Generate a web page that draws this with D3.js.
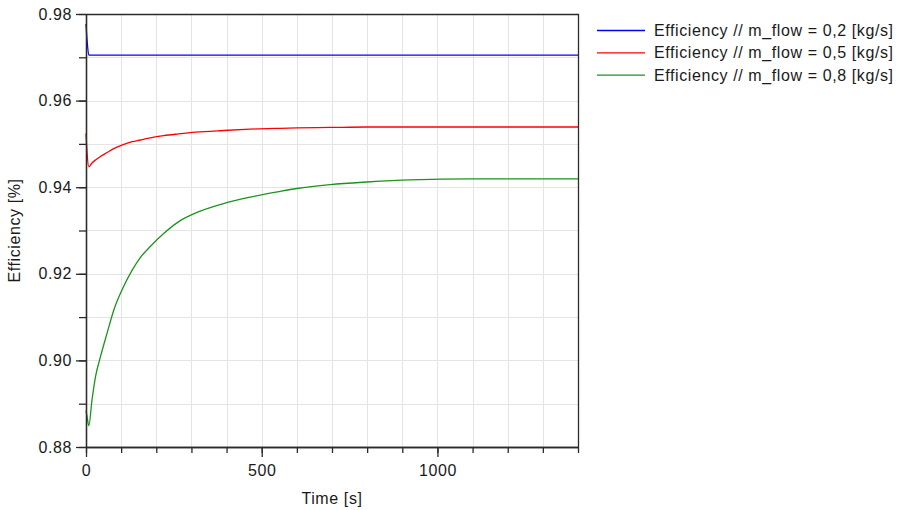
<!DOCTYPE html>
<html>
<head>
<meta charset="utf-8">
<script src="https://cdn.jsdelivr.net/npm/d3@7/dist/d3.min.js"></script>
<style>
  html, body { margin: 0; padding: 0; background: #fff; }
  svg { display: block; }
  text { font-family: "Liberation Sans", Arial, sans-serif; font-size: 16px; letter-spacing: 0.6px; fill: #1a1a1a; }
</style>
</head>
<body>
<svg id="chart" width="901" height="510"></svg>
<script>
// Simulation output: time [s] and efficiency per mass flow rate
const timeS = [0, 3, 8, 17, 27, 41, 60, 79, 102, 131, 154, 183, 221, 263, 311, 391, 467, 550, 600, 695, 799, 922, 1100, 1400];
const effFlow02 = [0.9777, 0.9740, 0.9705, 0.9705, 0.9705, 0.9705, 0.9705, 0.9705, 0.9705, 0.9705, 0.9705, 0.9705,
                   0.9705, 0.9705, 0.9705, 0.9705, 0.9705, 0.9705, 0.9705, 0.9705, 0.9705, 0.9705, 0.9705, 0.9705];
const effFlow05 = [0.9524, 0.9480, 0.9447, 0.9456, 0.9463, 0.9471, 0.9480, 0.9489, 0.9497, 0.9505, 0.9509, 0.9514,
                   0.9519, 0.9523, 0.9527, 0.9531, 0.9534, 0.9536, 0.9537, 0.9538, 0.9539, 0.9539, 0.9539, 0.9539];
const effFlow08 = [0.8884, 0.8870, 0.8849, 0.8908, 0.8962, 0.9008, 0.9063, 0.9116, 0.9162, 0.9208, 0.9237, 0.9263,
                   0.9293, 0.9320, 0.9340, 0.9362, 0.9377, 0.9390, 0.9397, 0.9406, 0.9412, 0.9417, 0.9419, 0.9419];
const seriesNames = ["Efficiency // m_flow = 0,2 [kg/s]", "Efficiency // m_flow = 0,5 [kg/s]", "Efficiency // m_flow = 0,8 [kg/s]"];
const seriesColors = ["#0000ff", "#ff0000", "#1a941a"];
const xMajorTicks = [0, 500, 1000];
const xMinorTicks = d3.range(0, 1401, 100);
const yMajorTicks = [0.88, 0.90, 0.92, 0.94, 0.96, 0.98];
const yMinorTicks = d3.range(0.88, 0.9801, 0.01).map(v => +v.toFixed(2));

const svg = d3.select("#chart");
const plot = { left: 86, right: 578, top: 14, bottom: 447 };

const x = d3.scaleLinear().domain([0, 1400]).range([plot.left, plot.right]);
const y = d3.scaleLinear().domain([0.88, 0.98]).range([plot.bottom, plot.top]);

// grid
const grid = svg.append("g").attr("stroke", "#e4e4e4").attr("stroke-width", 1);
grid.selectAll("line.v").data(xMinorTicks.filter(t => t > 0 && t < 1400)).join("line")
  .attr("x1", d => Math.round(x(d)) + 0.5).attr("x2", d => Math.round(x(d)) + 0.5)
  .attr("y1", plot.top).attr("y2", plot.bottom);
grid.selectAll("line.h").data(yMinorTicks.filter(v => v > 0.88 && v < 0.98)).join("line")
  .attr("y1", d => Math.round(y(d)) + 0.5).attr("y2", d => Math.round(y(d)) + 0.5)
  .attr("x1", plot.left).attr("x2", plot.right);

// series lines
const seriesData = [effFlow02, effFlow05, effFlow08];
const line = d3.line().x((d, i) => x(timeS[i])).y(d => y(d)).curve(d3.curveMonotoneX);
svg.append("g").selectAll("path").data(seriesData).join("path")
  .attr("fill", "none")
  .attr("stroke", (d, i) => seriesColors[i])
  .attr("stroke-width", 1.3)
  .attr("d", d => line(d));

// frame (top and right)
svg.append("path")
  .attr("d", `M${plot.left},${plot.top + 0.5}H${plot.right + 0.5}V${plot.bottom}`)
  .attr("fill", "none").attr("stroke", "#2b2b2b").attr("stroke-width", 1.3);

// axes
function styleAxis(g) {
  g.selectAll(".domain").attr("stroke", "#2b2b2b").attr("stroke-width", 1.3);
  g.selectAll(".tick line").attr("stroke", "#2b2b2b").attr("stroke-width", 1.3);
  g.selectAll("text").attr("font-family", null).attr("font-size", null).attr("fill", null);
}

svg.append("g").attr("transform", `translate(${plot.left},0)`)
  .call(d3.axisLeft(y).tickValues(yMinorTicks).tickSize(7).tickSizeOuter(0).tickFormat(""))
  .call(styleAxis);
svg.append("g").attr("transform", `translate(${plot.left},0)`)
  .call(d3.axisLeft(y).tickValues(yMajorTicks).tickSize(10).tickSizeOuter(0).tickPadding(4).tickFormat(d3.format(".2f")))
  .call(styleAxis);

svg.append("g").attr("transform", `translate(0,${plot.bottom})`)
  .call(d3.axisBottom(x).tickValues(xMinorTicks).tickSize(6).tickSizeOuter(0).tickFormat(""))
  .call(styleAxis);
svg.append("g").attr("transform", `translate(0,${plot.bottom})`)
  .call(d3.axisBottom(x).tickValues(xMajorTicks).tickSize(10).tickSizeOuter(0).tickPadding(8).tickFormat(d3.format("d")))
  .call(styleAxis);

// axis titles
svg.append("text")
  .attr("x", (plot.left + plot.right) / 2).attr("y", 504)
  .attr("text-anchor", "middle").text("Time [s]");
svg.append("text")
  .attr("transform", `translate(20,${(plot.top + plot.bottom) / 2}) rotate(-90)`)
  .attr("text-anchor", "middle").text("Efficiency [%]");

// legend
const legend = svg.append("g").selectAll("g").data(seriesNames).join("g")
  .attr("transform", (d, i) => `translate(597,${30 + i * 22.3})`);
legend.append("line").attr("x1", 0).attr("x2", 48).attr("y1", 0.5).attr("y2", 0.5)
  .attr("stroke", (d, i) => seriesColors[i]).attr("stroke-width", 1.3);
legend.append("text").attr("x", 57).attr("y", 6).text(d => d);
</script>
</body>
</html>
